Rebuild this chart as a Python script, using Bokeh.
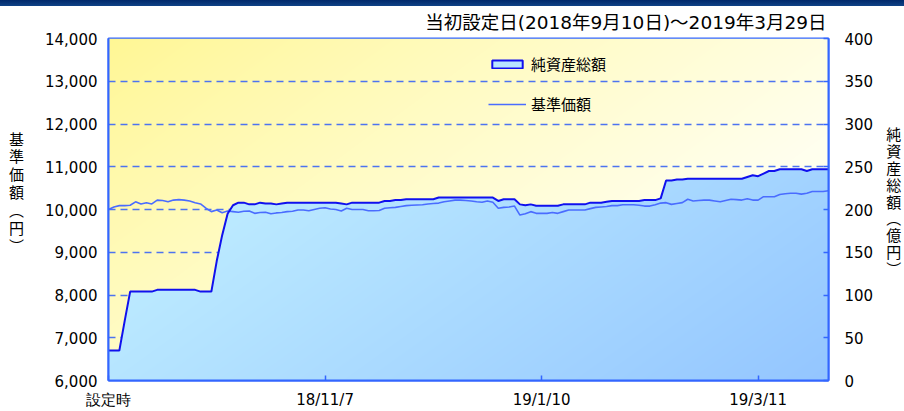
import numpy as np
from bokeh.plotting import figure
from bokeh.models import (Range1d, LinearAxis, FixedTicker, NumeralTickFormatter,
                          Legend, LegendItem, ColumnDataSource)
from bokeh.embed import file_html
from bokeh.resources import INLINE

# ---------------- data ----------------
x_tick_index = [0, 40, 80, 120]
x_tick_labels = ["設定時", "18/11/7", "19/1/10", "19/3/11"]
left_ticks = [6000, 7000, 8000, 9000, 10000, 11000, 12000, 13000, 14000]
right_ticks = [0, 50, 100, 150, 200, 250, 300, 350, 400]

# 基準価額 (円), one value per business day from 設定時
base_price = [
    10000, 10060, 10090, 10090, 10100, 10180, 10130, 10160, 10130, 10220,
    10210, 10180, 10220, 10230, 10220, 10200, 10160, 10130, 10030, 9950,
    9990, 9925, 9965, 9950, 9935, 9960, 9965, 9910, 9930, 9935,
    9900, 9920, 9930, 9950, 9960, 9990, 9990, 9970, 10000, 10030,
    10040, 10010, 10000, 9965, 10030, 10000, 10000, 10000, 9970, 9970,
    9975, 10030, 10040, 10050, 10070, 10090, 10100, 10105, 10110, 10130,
    10140, 10150, 10180, 10200, 10220, 10220, 10210, 10200, 10180, 10170,
    10200, 10170, 10030, 10050, 10060, 10080, 9870, 9900, 9950, 9910,
    9910, 9910, 9930, 9910, 9950, 9990, 9990, 9990, 9990, 10020,
    10050, 10060, 10070, 10090, 10090, 10110, 10110, 10110, 10100, 10080,
    10080, 10110, 10150, 10160, 10120, 10140, 10160, 10240, 10200, 10210,
    10220, 10220, 10200, 10180, 10210, 10240, 10230, 10220, 10250, 10220,
    10220, 10300, 10300, 10300, 10350, 10370, 10380, 10380, 10360, 10380,
    10420, 10420, 10420, 10440,
]

# 純資産総額 (億円)
net_assets = [
    35, 35, 35, 70, 104, 104, 104, 104, 104, 106,
    106, 106, 106, 106, 106, 106, 106, 104, 104, 104,
    140, 170, 195, 205, 208, 208, 206, 206, 208, 207,
    207, 206, 207, 208, 208, 208, 208, 208, 208, 208,
    208, 208, 208, 207, 206, 208, 208, 208, 208, 208,
    208, 210, 210, 211, 211, 212, 212, 212, 212, 212,
    212, 214, 214, 214, 214, 214, 214, 214, 214, 214,
    214, 214, 210, 212, 212, 212, 206, 205, 206, 204.5,
    204.5, 204.5, 204.5, 204.5, 206, 206, 206, 206, 206, 208,
    208, 208, 209, 210, 210, 210, 210, 210, 210, 211,
    211, 211, 213, 234, 234, 235, 235, 236, 236, 236,
    236, 236, 236, 236, 236, 236, 236, 236, 238, 240,
    239, 242, 245, 245, 247, 247, 247, 247, 247, 245,
    247, 247, 247, 247,
]

title_text = "当初設定日(2018年9月10日)～2019年3月29日"
left_title = "基\n準\n価\n額\n︵\n円\n︶\n\u3000\n\u3000"
right_title = "純\n資\n産\n総\n額\n︵\n億\n円\n︶\n\u3000"
legend_labels = ["純資産総額", "基準価額"]

# ---------------- figure ----------------
N = len(base_price)
idx = np.arange(N)
src = ColumnDataSource(dict(x=idx, price=base_price, nav=net_assets))

FONT = "Noto Sans CJK JP"
BORDER = "#3366ff"

p = figure(width=904, height=411, x_range=Range1d(0, N - 1),
           y_range=Range1d(left_ticks[0], left_ticks[-1]),
           output_backend="svg", toolbar_location=None,
           min_border_left=108, min_border_right=76,
           min_border_top=38, min_border_bottom=30,
           background_fill_color="#ffffff", border_fill_alpha=0,
           outline_line_color=BORDER, outline_line_width=2)
# dark header strip behind the (transparent) border area
p.styles = {"background": "linear-gradient(to bottom, #00286a 0px, #0f4286 6px, #ffffff 6px, #ffffff 100%)"}
p.extra_y_ranges = {"nav": Range1d(right_ticks[0], right_ticks[-1])}

# title
p.title.text = title_text
p.title.align = "right"
p.title.offset = 2
p.title.standoff = 12
p.title.text_font = "DejaVu Sans, Noto Sans CJK JP"
p.title.text_font_size = "18.5px"
p.title.text_font_style = "normal"
p.title.text_color = "#000000"

# background gradient (yellow)
W, H = 720, 343
fx = (np.arange(W) + 0.5) / W
fyd = 1 - (np.arange(H) + 0.5) / H
FX, FYD = np.meshgrid(fx, fyd)

def pack(r, g, b, a):
    img = np.empty((H, W), dtype=np.uint32)
    v = img.view(dtype=np.uint8).reshape((H, W, 4))
    v[..., 0] = r; v[..., 1] = g; v[..., 2] = b; v[..., 3] = a
    return img

ty = np.clip(0.85 * FX + 0.55 * FYD, 0, 1) ** 0.9
c0, c1 = np.array([255, 247, 148]), np.array([255, 255, 238])
yel = pack(*(c0[k] + (c1[k] - c0[k]) * ty for k in range(3)), 255)
p.image_rgba(image=[yel], x=0, y=left_ticks[0], dw=N - 1,
             dh=left_ticks[-1] - left_ticks[0], level="image")

# area (net assets)
area_r = p.varea(x="x", y1=0, y2="nav", source=src, y_range_name="nav",
                 fill_color="#b5e3ff")
tb = np.clip(0.6 * FX + 0.4 * FYD, 0, 1)
b0, b1 = np.array([205, 250, 255]), np.array([148, 198, 255])
nav_col = np.interp(fx * (N - 1), idx, net_assets)
ydat = (np.arange(H) + 0.5) / H * right_ticks[-1]
alpha = np.clip((nav_col[None, :] - ydat[:, None]) / (right_ticks[-1] / H) + 0.5, 0, 1) * 255
blu = pack(*(b0[k] + (b1[k] - b0[k]) * tb for k in range(3)), alpha)
p.image_rgba(image=[blu], x=0, y=0, dw=N - 1, dh=right_ticks[-1], y_range_name="nav")

price_r = p.line("x", "price", source=src, line_color="#4a6cff", line_width=1.6)
nav_r = p.line("x", "nav", source=src, y_range_name="nav",
               line_color="#1010ee", line_width=2)
# legend swatch for the area (a single undrawn NaN box)
sw = p.quad(left=[np.nan], right=[np.nan], top=[np.nan], bottom=[np.nan],
            fill_color="#b8e6ff", line_color="#1010ee", line_width=2)

# grid
p.xgrid.visible = False
p.ygrid.ticker = FixedTicker(ticks=left_ticks)
p.ygrid.grid_line_color = "#4d73f0"
p.ygrid.grid_line_width = 1.5
p.ygrid.grid_line_dash = "7 5"

# axes
ax_l = p.yaxis[0]
ax_l.ticker = FixedTicker(ticks=left_ticks)
ax_l.formatter = NumeralTickFormatter(format="0,0")
ax_r = LinearAxis(y_range_name="nav", ticker=FixedTicker(ticks=right_ticks))
p.add_layout(ax_r, "right")
ax_b = p.xaxis[0]
ax_b.ticker = FixedTicker(ticks=x_tick_index)
ax_b.major_label_overrides = dict(zip(x_tick_index, x_tick_labels))

for ax in (ax_l, ax_r, ax_b):
    ax.axis_line_color = BORDER
    ax.axis_line_width = 2
    ax.major_tick_line_color = BORDER
    ax.major_tick_line_width = 1.5
    ax.minor_tick_line_color = None
    ax.major_tick_out = 0
    ax.major_label_text_color = "#000000"
    ax.major_label_text_font = "DejaVu Sans"
    ax.major_label_text_font_size = "15px"
ax_l.major_tick_in = 0
ax_l.major_label_standoff = 11
ax_r.major_tick_in = 5
ax_r.major_label_standoff = 16
ax_b.major_tick_in = 5
ax_b.major_label_standoff = 10

for ax, txt, so, lh in ((ax_l, left_title, 18, 0.85), (ax_r, right_title, 10, 0.80)):
    ax.axis_label = txt
    ax.axis_label_orientation = "horizontal"
    ax.axis_label_standoff = so
    ax.axis_label_text_font = FONT
    ax.axis_label_text_font_size = "15px"
    ax.axis_label_text_font_style = "normal"
    ax.axis_label_text_color = "#000000"
    ax.axis_label_text_line_height = lh

legend = Legend(items=[LegendItem(label=legend_labels[0], renderers=[sw]),
                       LegendItem(label=legend_labels[1], renderers=[price_r])],
                location=(380, 266), padding=0, margin=0, spacing=19,
                glyph_width=38, glyph_height=10, label_height=20,
                label_standoff=5, label_text_font=FONT,
                label_text_font_size="15px", label_text_color="#000000",
                background_fill_alpha=0, border_line_alpha=0)
p.add_layout(legend)

open("out.html", "w").write(file_html(p, INLINE))
